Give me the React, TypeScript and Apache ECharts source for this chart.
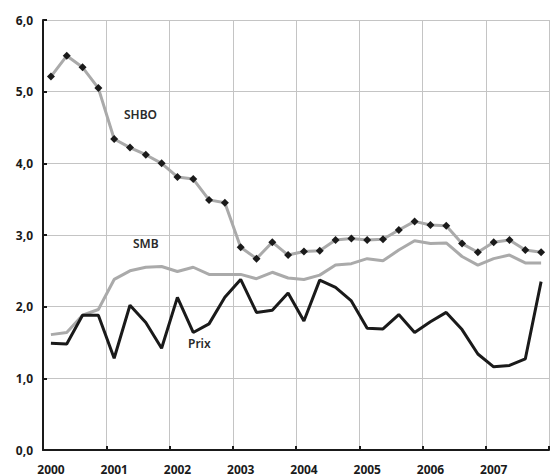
import React, { useEffect, useRef } from "react";
import * as echarts from "echarts";

const years = [2000, 2001, 2002, 2003, 2004, 2005, 2006, 2007];
const quarters = Array.from({ length: 32 }, (_, i) => i); // quarter index 2000Q1..2007Q4
const shbo = [5.21, 5.5, 5.34, 5.05, 4.34, 4.22, 4.12, 4.0, 3.81, 3.78, 3.49, 3.45, 2.83, 2.67, 2.9, 2.72, 2.77, 2.78, 2.93, 2.95, 2.93, 2.94, 3.07, 3.19, 3.14, 3.13, 2.88, 2.76, 2.9, 2.93, 2.79, 2.76];
const smb = [1.61, 1.64, 1.88, 1.96, 2.38, 2.5, 2.55, 2.56, 2.49, 2.55, 2.45, 2.45, 2.45, 2.39, 2.48, 2.4, 2.38, 2.44, 2.58, 2.6, 2.67, 2.64, 2.79, 2.92, 2.88, 2.89, 2.7, 2.58, 2.67, 2.72, 2.61, 2.61];
const prix = [1.49, 1.48, 1.88, 1.88, 1.28, 2.02, 1.78, 1.42, 2.13, 1.64, 1.76, 2.13, 2.38, 1.92, 1.95, 2.19, 1.8, 2.37, 2.27, 2.08, 1.7, 1.69, 1.89, 1.64, 1.79, 1.92, 1.68, 1.34, 1.16, 1.18, 1.27, 2.35];
const yTicks = [0, 1, 2, 3, 4, 5, 6];

const xOf = (i: number) => years[0] + 0.125 + 0.25 * i;

export default function App() {
  const ref = useRef<HTMLDivElement>(null);
  useEffect(() => {
    if (!ref.current) return;
    const chart = echarts.init(ref.current, null, { renderer: "svg" });
    const font = "Noto Sans";
    const mk = (arr: number[]) => quarters.map((i) => [xOf(i), arr[i]]);
    chart.setOption({
      animation: false,
      grid: { left: 43, top: 20, right: -3, bottom: 26, containLabel: false },
      xAxis: {
        type: "value",
        min: 2000,
        max: 2008,
        interval: 1,
        axisLine: { show: true, onZero: false, lineStyle: { color: "#1a1a1a", width: 2 } },
        axisTick: { show: true, inside: true, length: 4, lineStyle: { color: "#1a1a1a", width: 2 } },
        splitLine: { show: true, lineStyle: { color: "#c4c4c4", width: 1 } },
        axisLabel: {
          fontFamily: font,
          fontWeight: "bold",
          fontSize: 12,
          color: "#1a1a1a",
          margin: 13,
          padding: [0, 0, 0, 16],
          formatter: (v: number) => (years.includes(v) ? String(v) : ""),
        },
      },
      yAxis: {
        type: "value",
        min: 0,
        max: 6,
        interval: 1,
        axisLine: { show: true, lineStyle: { color: "#1a1a1a", width: 2 } },
        axisTick: { show: true, inside: true, length: 4, lineStyle: { color: "#1a1a1a", width: 2 } },
        splitLine: { show: true, lineStyle: { color: "#c4c4c4", width: 1 } },
        axisLabel: {
          fontFamily: font,
          fontWeight: "bold",
          fontSize: 12,
          color: "#1a1a1a",
          margin: 10,
          formatter: (v: number) => (yTicks.includes(v) ? v.toFixed(1).replace(".", ",") : ""),
        },
      },
      series: [
        {
          name: "SMB",
          type: "line",
          data: mk(smb),
          symbol: "none",
          lineStyle: { color: "#aaaaaa", width: 3 },
          z: 2,
        },
        {
          name: "Prix",
          type: "line",
          data: mk(prix),
          symbol: "none",
          lineStyle: { color: "#1a1a1a", width: 3 },
          z: 3,
        },
        {
          name: "SHBO",
          type: "line",
          data: mk(shbo),
          symbol: "diamond",
          symbolSize: 8,
          itemStyle: { color: "#1a1a1a" },
          lineStyle: { color: "#aaaaaa", width: 3 },
          z: 4,
        },
      ],
      graphic: [
        {
          type: "text",
          left: 124,
          top: 108,
          style: { text: "SHBO", fontFamily: font, fontSize: 12, fontWeight: 600, fill: "#2a2a2a" },
        },
        {
          type: "text",
          left: 128,
          top: 235,
          style: {
            text: "SMB",
            fontFamily: font,
            fontSize: 12,
            fontWeight: 600,
            fill: "#2a2a2a",
            backgroundColor: "#ffffff",
            padding: [2, 5, 2, 5],
          },
        },
        {
          type: "text",
          left: 188,
          top: 337,
          style: { text: "Prix", fontFamily: font, fontSize: 12, fontWeight: 600, fill: "#2a2a2a" },
        },
      ],
    });
    return () => chart.dispose();
  }, []);
  return <div ref={ref} style={{ width: 552, height: 476, position: "absolute", left: 0, top: 0 }} />;
}
